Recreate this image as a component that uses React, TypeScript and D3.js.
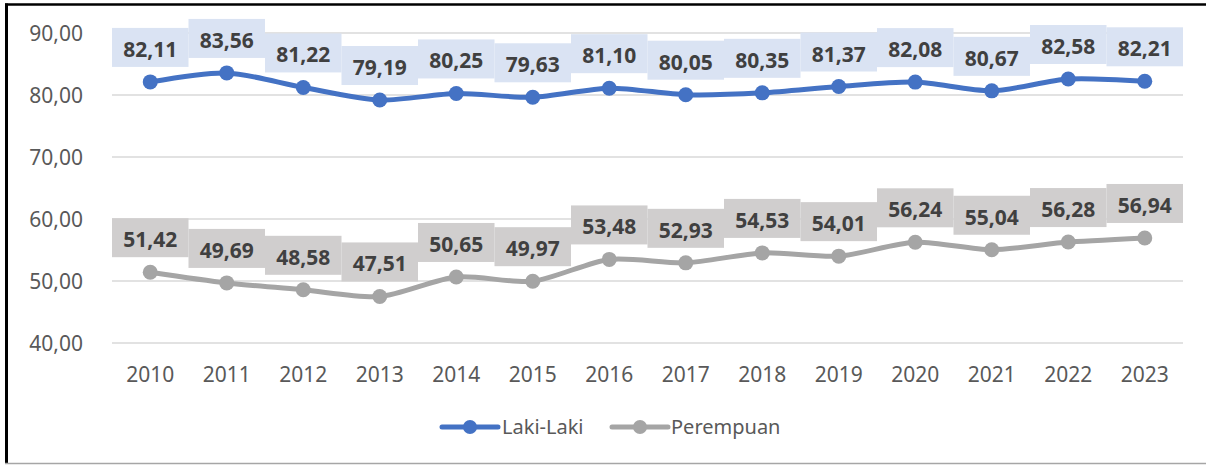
import React from 'react';
import * as d3 from 'd3';

// chart data
const years = ['2010', '2011', '2012', '2013', '2014', '2015', '2016', '2017', '2018', '2019', '2020', '2021', '2022', '2023'];
const lakiLaki = [82.11, 83.56, 81.22, 79.19, 80.25, 79.63, 81.1, 80.05, 80.35, 81.37, 82.08, 80.67, 82.58, 82.21];
const perempuan = [51.42, 49.69, 48.58, 47.51, 50.65, 49.97, 53.48, 52.93, 54.53, 54.01, 56.24, 55.04, 56.28, 56.94];
const yTicks = [40, 50, 60, 70, 80, 90];

const W = 1206;
const H = 465;
const FONT = '"Noto Sans", "Open Sans", sans-serif';

const fmt = (v: number) => v.toFixed(2).replace('.', ',');

const series = [
  { name: 'Laki-Laki', values: lakiLaki, color: '#4472C4', box: '#DAE3F3' },
  { name: 'Perempuan', values: perempuan, color: '#A5A5A5', box: '#D0CECE' },
];

export default function App() {
  const x = d3.scaleBand<string>().domain(years).range([112, 1183]).padding(0);
  const y = d3.scaleLinear().domain([40, 90]).range([343, 33]);
  const bw = x.bandwidth();
  const cx = (yr: string) => (x(yr) as number) + bw / 2;

  const line = d3
    .line<number>()
    .x((_, i) => cx(years[i]))
    .y((d) => y(d))
    .curve(d3.curveCardinal.tension(0.2));

  const legendItems = [
    { x0: 442, textX: 502 },
    { x0: 612, textX: 671 },
  ];

  return (
    <svg width={W} height={H} style={{ position: 'fixed', left: 0, top: 0, background: '#fff' }}>
      <rect x={0} y={0} width={W} height={H} fill="#fff" />

      {/* gridlines */}
      {yTicks.map((t) => (
        <line key={t} x1={112} x2={1183} y1={y(t)} y2={y(t)} stroke="#D9D9D9" strokeWidth={1.5} />
      ))}

      {/* y axis labels */}
      {yTicks.map((t) => (
        <text
          key={t}
          x={83}
          y={y(t) + 7.5}
          textAnchor="end"
          fontFamily={FONT}
          fontSize={21}
          fill="#595959"
        >
          {fmt(t)}
        </text>
      ))}

      {/* x axis labels */}
      {years.map((yr) => (
        <text key={yr} x={cx(yr)} y={382} textAnchor="middle" fontFamily={FONT} fontSize={21} fill="#595959">
          {yr}
        </text>
      ))}

      {/* lines + markers */}
      {series.map((s) => (
        <g key={s.name}>
          <path d={line(s.values) || ''} fill="none" stroke={s.color} strokeWidth={5} strokeLinecap="round" />
          {s.values.map((v, i) => (
            <circle key={i} cx={cx(years[i])} cy={y(v)} r={7.5} fill={s.color} />
          ))}
        </g>
      ))}

      {/* data labels */}
      {series.map((s) => (
        <g key={s.name + '-labels'}>
          {s.values.map((v, i) => {
            const py = y(v);
            const top = py - 15 - 39;
            return (
              <g key={i}>
                <rect x={cx(years[i]) - bw / 2} y={top} width={bw} height={39} fill={s.box} />
                <text
                  x={cx(years[i])}
                  y={top + 29}
                  textAnchor="middle"
                  fontFamily={FONT}
                  fontWeight="bold"
                  fontSize={21}
                  fill="#404040"
                >
                  {fmt(v)}
                </text>
              </g>
            );
          })}
        </g>
      ))}

      {/* legend */}
      {series.map((s, i) => (
        <g key={s.name + '-legend'}>
          <line
            x1={legendItems[i].x0}
            x2={legendItems[i].x0 + 56}
            y1={427}
            y2={427}
            stroke={s.color}
            strokeWidth={5}
            strokeLinecap="round"
          />
          <circle cx={legendItems[i].x0 + 28} cy={427} r={7} fill={s.color} />
          <text x={legendItems[i].textX} y={434} fontFamily={FONT} fontSize={20} fill="#595959">
            {s.name}
          </text>
        </g>
      ))}

      {/* frame */}
      <line x1={5} x2={W} y1={4.5} y2={4.5} stroke="#000" strokeWidth={2.5} />
      <line x1={6.5} x2={6.5} y1={3.5} y2={464} stroke="#000" strokeWidth={3} />
      <line x1={5} x2={W} y1={463.5} y2={463.5} stroke="#A6A6A6" strokeWidth={1.5} />
    </svg>
  );
}
